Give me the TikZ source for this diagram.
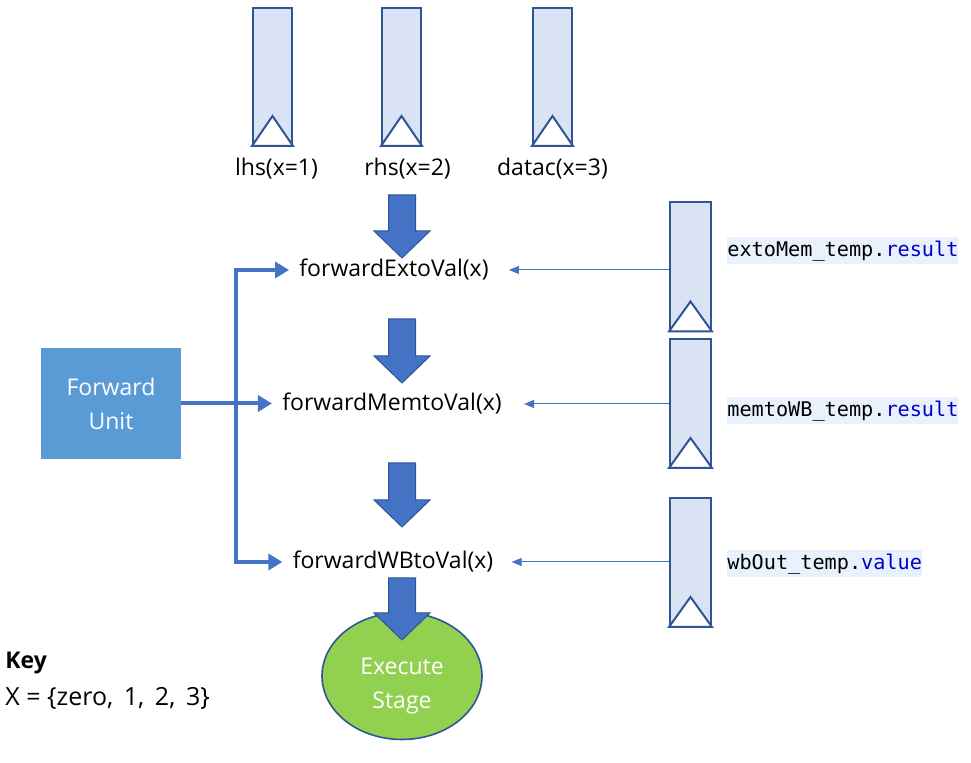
\documentclass[tikz,border=0pt]{standalone}
\usepackage{fontspec}
\setmainfont{Open Sans}
\setmonofont{DejaVu Sans Mono}
\usetikzlibrary{arrows.meta,shapes.geometric,positioning}

\definecolor{regfill}{HTML}{DAE3F3}
\definecolor{regline}{HTML}{2F5597}
\definecolor{arrowblue}{HTML}{4472C4}
\definecolor{fublue}{HTML}{5B9BD5}
\definecolor{exegreen}{HTML}{92D050}
\definecolor{codebg}{HTML}{E8F1FC}
\definecolor{codeblue}{HTML}{0000CC}

\tikzset{
  reg/.style={draw=regline, fill=regfill, line width=1pt, inner sep=0pt},
  regtop/.style={reg, minimum width=19.5pt, minimum height=68.5pt},
  regside/.style={reg, minimum width=20.5pt, minimum height=64pt},
  func/.style={font=\fontsize{11.5}{14}\selectfont, inner sep=5pt},
  codetxt/.style={fill=codebg, anchor=west, inner xsep=0pt, inner ysep=1.5pt,
    font=\ttfamily\fontsize{10.1}{12}\selectfont, text height=8pt, text depth=2.5pt},
  busarrow/.style={draw=arrowblue, line width=2pt, -{Triangle[length=7pt,width=8pt]}},
  thinarrow/.style={draw=arrowblue, line width=0.5pt, -{Triangle[length=5pt,width=4pt]}},
  blockarrow/.style={fill=arrowblue, draw=regline, line width=0.5pt}
}

\begin{document}
\begin{tikzpicture}[x=0.5pt,y=-0.5pt]
  \useasboundingbox (0,0) rectangle (971,763);

  % Registros de entrada
  \node[regtop] (lhs) at (272.5,76.5) {};
  \node[regtop] (rhs) at (401.5,76.5) {};
  \node[regtop] (datac) at (552.5,76.5) {};
  \node[func, below=1pt of lhs, xshift=2pt] (lhslbl) {lhs(x=1)};
  \node[func, below=1pt of rhs, xshift=3pt] (rhslbl) {rhs(x=2)};
  \node[func, below=1pt of datac] (dataclbl) {datac(x=3)};

  % Registros de la derecha
  \node[regside] (regex) at (690.5,266.5) {};
  \node[regside] (regmem) at (690.5,403) {};
  \node[regside] (regwb) at (690.5,562) {};

  % Triangulos de reloj
  \foreach \r in {lhs,rhs,datac,regex,regmem,regwb}
    \draw[draw=regline, fill=white, line width=1pt, line join=miter]
      (\r.south west) -- ([yshift=15pt]\r.south) -- (\r.south east) -- cycle;

  % Funciones
  \node[func] (fex) at (394,270) {forwardExtoVal(x)};
  \node[func] (fmem) at (392,404) {forwardMemtoVal(x)};
  \node[func] (fwb) at (393,562) {forwardWBtoVal(x)};

  \node[fill=fublue, text=white, align=center, minimum width=70pt, minimum height=55.5pt,
    font=\fontsize{11.5}{17}\selectfont] (fu) at (111,403.5) {Forward\\Unit};

  \node[ellipse, draw=regline, fill=exegreen, line width=0.8pt, minimum width=80pt,
    minimum height=63.5pt, inner sep=0pt,
    label={[name=exetxt, text=white, align=center, yshift=-5pt,
      font=\fontsize{11.5}{17}\selectfont]center:Execute\\Stage}] (exe) at (402,676) {};

  % Flechas gruesas
  \foreach \ytop/\ytip in {195/258, 319/383, 463/527, 578/640}
    \draw[blockarrow] (388.5,\ytop) -- (415.5,\ytop) -- (415.5,\ytip-27) -- (430,\ytip-27)
      -- (402,\ytip) -- (374,\ytip-27) -- (388.5,\ytip-27) -- cycle;

  % Forward Unit
  \coordinate (junction) at (236,403.5);
  \draw[busarrow] (fu.east) -- (fu.east -| fmem.west);
  \draw[busarrow] (junction) |- (fex.west);
  \draw[busarrow] (junction) |- (fwb.west);

  % Valores de los registros
  \draw[thinarrow, shorten >=5pt] (regex.west |- fex.east) -- (fex.east);
  \draw[thinarrow, shorten >=6pt] (regmem.west |- fmem.east) -- (fmem.east);
  \draw[thinarrow, shorten >=4pt] (regwb.west |- fwb.east) -- (fwb.east);

  \node[codetxt] (codeex) at (727,251) {extoMem\_temp.\textcolor{codeblue}{result}};
  \node[codetxt] (codemem) at (727,411) {memtoWB\_temp.\textcolor{codeblue}{result}};
  \node[codetxt] (codewb) at (727,564) {wbOut\_temp.\textcolor{codeblue}{value}};

  % Leyenda
  \node[anchor=west, inner sep=0pt, font=\bfseries\fontsize{11.5}{14}\selectfont] (keytitle) at (5,663) {Key};
  \node[anchor=west, inner sep=0pt, font=\fontsize{12.5}{15}\selectfont] (keyset) at (5,698) {X = \{zero,\, 1,\, 2,\, 3\}};
\end{tikzpicture}
\end{document}
